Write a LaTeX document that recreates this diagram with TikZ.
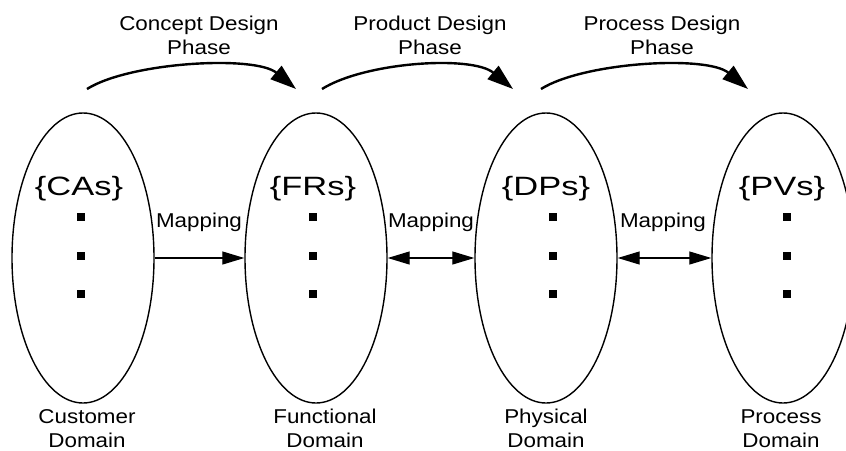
\documentclass[tikz,border=0pt]{standalone}
\usepackage{fontspec}
\usetikzlibrary{shapes.geometric,arrows.meta}
\newfontfamily\lblfont[FakeStretch=1.12]{Liberation Sans}
\newfontfamily\setfont[FakeStretch=1.3]{Liberation Sans}
\begin{document}
\begin{tikzpicture}[x=1pt,y=-1pt,
  domainbox/.style={draw,ellipse,line width=1.4pt,minimum width=142pt,minimum height=290pt,inner sep=0pt},
  setname/.style={anchor=base,inner sep=0pt,font=\setfont\fontsize{26.5}{30}\selectfont},
  lbl/.style={anchor=base,inner sep=0pt,align=center,font=\lblfont\fontsize{20}{24}\selectfont},
  elem/.style={fill=black,minimum size=8.5pt,inner sep=0pt},
  maparrow/.style={line width=1.2pt,-{Triangle[length=22pt,width=13pt]}},
  bimaparrow/.style={line width=1.2pt,{Triangle[length=22pt,width=13pt]}-{Triangle[length=22pt,width=13pt]}},
  phasearrow/.style={line width=2.4pt,-{Triangle[length=26pt,width=17pt]}}]
\useasboundingbox (0,0) rectangle (846,450);
\clip (0,0) rectangle (846,450);

% domains
\node[domainbox] (E1) at (83,258) {};
\node[domainbox] (E2) at (316,258) {};
\node[domainbox] (E3) at (546,258) {};
\node[domainbox] (E4) at (783,258) {};

% characteristic vectors
\node[setname] (S1) at (79,195) {\{CAs\}};
\node[setname] (S2) at (313,195) {\{FRs\}};
\node[setname] (S3) at (546,195) {\{DPs\}};
\node[setname] (S4) at (782,195) {\{PVs\}};

% vertical ellipsis in each domain
\foreach \d/\x in {1/81,2/313,3/553,4/787}{
  \node[elem] (d\d a) at (\x,217) {};
  \node[elem] (d\d b) at (\x,256) {};
  \node[elem] (d\d c) at (\x,294) {};
}

% mapping between domains
\draw[maparrow] (E1.east) -- (E2.west);
\draw[bimaparrow] (E2.east) -- (E3.west);
\draw[bimaparrow] (E3.east) -- (E4.west);
\node[lbl] (M1) at (199,227) {Mapping};
\node[lbl] (M2) at (431,227) {Mapping};
\node[lbl] (M3) at (663,227) {Mapping};

% design phases
\coordinate (A1s) at (87,89);  \coordinate (A1e) at (296,89);
\coordinate (A2s) at (322,89); \coordinate (A2e) at (513,89);
\coordinate (A3s) at (541,89); \coordinate (A3e) at (748,89);
\foreach \k in {1,2,3}{
  \draw[phasearrow] (A\k s) .. controls ([shift={(43,-27)}]A\k s) and ([shift={(-41,-34)}]A\k e) .. (A\k e);
}
% multi-line labels: the given point is the baseline of the last line
\node[lbl] (P1) at (199,54) {Concept Design\\Phase};
\node[lbl] (P2) at (430,54) {Product Design\\Phase};
\node[lbl] (P3) at (662,54) {Process Design\\Phase};

% domain names
\node[lbl] (N1) at (87,447) {Customer\\Domain};
\node[lbl] (N2) at (325,447) {Functional\\Domain};
\node[lbl] (N3) at (546,447) {Physical\\Domain};
\node[lbl] (N4) at (781,447) {Process\\Domain};
\end{tikzpicture}
\end{document}
